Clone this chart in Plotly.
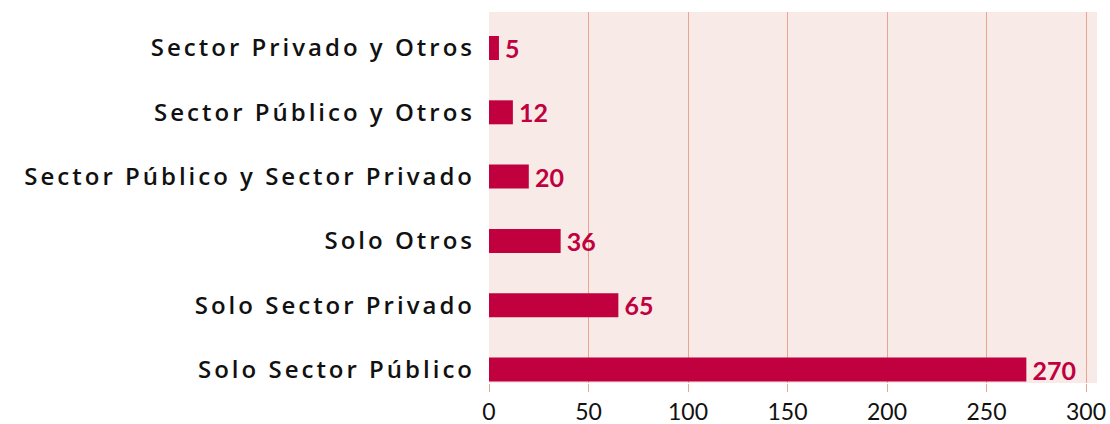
import plotly.graph_objects as go

categories = [
    "Solo Sector Público",
    "Solo Sector Privado",
    "Solo Otros",
    "Sector Público y Sector Privado",
    "Sector Público y Otros",
    "Sector Privado y Otros",
]
values = [270, 65, 36, 20, 12, 5]
x_ticks = [0, 50, 100, 150, 200, 250, 300]

BAR = "#C1003F"
BG = "#F8EAE6"
GRID = "#E8A695"

fig = go.Figure(
    go.Bar(
        x=values,
        y=categories,
        orientation="h",
        width=0.373,
        marker=dict(color=BAR, line=dict(width=0)),
        text=values,
        texttemplate="\u2009%{x}",
        textposition="outside",
        textfont=dict(family="Lato", size=25, color=BAR, weight=700),
        cliponaxis=False,
        constraintext="none",
        hoverinfo="skip",
    )
)

fig.update_layout(
    template="none",
    width=1110,
    height=424,
    margin=dict(l=489, r=13, t=12, b=41, pad=0),
    paper_bgcolor="white",
    plot_bgcolor=BG,
    showlegend=False,
    xaxis=dict(
        automargin=False,
        range=[0, 305.5],
        tickvals=x_ticks,
        ticktext=[str(t) for t in x_ticks],
        showgrid=True,
        gridcolor=GRID,
        gridwidth=1.3,
        zeroline=False,
        ticks="outside",
        ticklen=8,
        tickcolor=GRID,
        tickwidth=1.3,
        tickfont=dict(family="Lato", size=23, color="#111111"),
        showline=False,
        ticklabeloverflow="allow",
    ),
    yaxis=dict(
        automargin=False,
        range=[-0.21, 5.56],
        showgrid=False,
        zeroline=False,
        ticks="",
        ticklabelstandoff=13,
        tickfont=dict(family="Open Sans", size=24, color="#111111", weight=600),
    ),
)

post = """
document.documentElement.style.margin = '0';
document.body.style.margin = '0';
document.body.style.overflow = 'hidden';
var gd = document.getElementById('{plot_id}');
function spaceLabels(){
  gd.querySelectorAll('.ytick text').forEach(function(t){
    t.style.letterSpacing = '3px';
  });
}
spaceLabels();
gd.on('plotly_afterplot', spaceLabels);
"""

fig.write_html("out.html", post_script=post, config={"displayModeBar": False})
